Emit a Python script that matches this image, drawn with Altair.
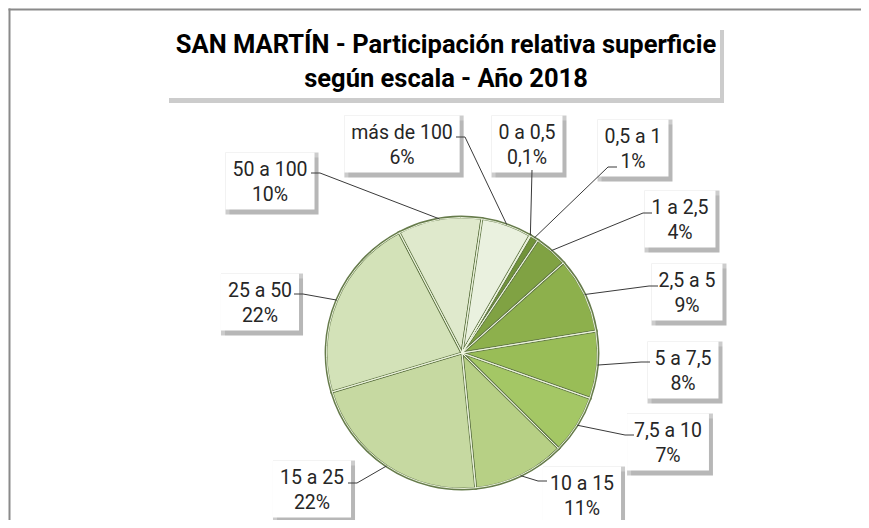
import math
import altair as alt
import pandas as pd

# ---------------- data ----------------
categories = ["0 a 0,5", "0,5 a 1", "1 a 2,5", "2,5 a 5", "5 a 7,5", "7,5 a 10",
              "10 a 15", "15 a 25", "25 a 50", "50 a 100", "más de 100"]
shares = [0.1, 1, 4, 9, 8, 7, 11, 22, 22, 10, 6]
share_labels = ["0,1%", "1%", "4%", "9%", "8%", "7%", "11%", "22%", "22%", "10%", "6%"]
title_lines = ["SAN MARTÍN - Participación relativa superficie", "según escala - Año 2018"]

# ---------------- styles / layout ----------------
colors = ["#5e7e2d", "#71933a", "#80a243", "#8db04c", "#99bd57", "#a4c765",
          "#b7d085", "#c6d9a1", "#d3e2b8", "#dfe9cc", "#eaf1df"]
W, H = 853, 512          # chart size (px)
CX, CY = 454, 345        # pie centre inside the chart (px)
R = 136                  # pie radius (px)
START = math.radians(30)  # angle of first slice
FONT = "Roboto"
LFS = 19.5               # label font size
LH = 25                  # label line height

# manual label placement (like dragged Excel labels), offsets from pie centre in px
label_pos = [(65, -208), (171, -204), (218, -133), (225, -60), (221, 18), (206, 90),
             (120, 143), (-150, 137), (-202, -50), (-192, -171), (-60, -208)]
leader_attach = [(70, -183), (146, -186), (181, -140), (187, -67), (179, 9), (163, 82),
                 (76, 128), (-105, 130), (-159, -59), (-142, -180), (3, -216)]
TICK = 9

# approximate glyph advance widths (em) for box sizing
CW = {"0": .5615, "1": .5615, "2": .5615, "3": .5615, "4": .5615, "5": .5615,
      "6": .5615, "7": .5615, "8": .5615, "9": .5615, " ": .248, "a": .544,
      ",": .196, "%": .732, "m": .875, "á": .544, "s": .5166, "d": .547, "e": .53}


def text_w(s):
    return sum(CW.get(c, .55) for c in s) * LFS


xs = alt.Scale(domain=[-CX, W - CX], nice=False, zero=False)
ys = alt.Scale(domain=[-CY, H - CY], nice=False, zero=False, reverse=True)


def X(f):
    return alt.X(f, type="quantitative", scale=xs, axis=None)


def Y(f):
    return alt.Y(f, type="quantitative", scale=ys, axis=None)


# ---------------- pie ----------------
pie_df = pd.DataFrame({"cat": categories, "share": shares,
                       "idx": list(range(len(shares))), "cx": 0, "cy": 0})
theta = alt.Theta("share:Q", stack=True,
                  scale=alt.Scale(range=[START, START + 2 * math.pi]))
color = alt.Color("cat:N", scale=alt.Scale(domain=categories, range=colors), legend=None)

arcs = alt.Chart(pie_df).mark_arc(outerRadius=R, stroke="#667b4b", strokeWidth=2.8).encode(
    theta=theta, color=color, order=alt.Order("idx:Q"), x=X("cx"), y=Y("cy"))
arcs_hi = alt.Chart(pie_df).mark_arc(outerRadius=R - 0.5, fillOpacity=0, stroke="#eef5df",
                                     strokeWidth=1.0, strokeOpacity=0.95).encode(
    theta=theta, order=alt.Order("idx:Q"), x=X("cx"), y=Y("cy"))

# ---------------- labels ----------------
total = sum(shares)
rows, lrows = [], []
cum = 0.0
for i, (c, v, p) in enumerate(zip(categories, shares, share_labels)):
    mid = START + 2 * math.pi * (cum + v / 2) / total
    cum += v
    ex, ey = R * math.sin(mid), -R * math.cos(mid)
    tx, ty = label_pos[i]
    ax, ay = leader_attach[i]
    bw = max(text_w(c), text_w(p)) + 14
    bh = 57
    rows.append(dict(cat=c, text=c + "\n" + p, tx=tx, ty=ty - LH / 2,
                     bx=tx - bw / 2, bx2=tx + bw / 2, by=ty - 1 - bh / 2, by2=ty - 1 + bh / 2,
                     sx=tx - bw / 2 + 4, sx2=tx + bw / 2 + 4, sy=ty - 1 - bh / 2 + 5,
                     sy2=ty - 1 + bh / 2 + 5))
    tick = 0 if abs(tx - ax) < 10 else (TICK if tx > ax else -TICK)
    lrows += [dict(cat=c, step=0, px=ex, py=ey), dict(cat=c, step=1, px=ax, py=ay),
              dict(cat=c, step=2, px=ax + tick, py=ay)]
lab_df = pd.DataFrame(rows)
lead_df = pd.DataFrame(lrows)

shadow1 = alt.Chart(lab_df).mark_rect(color="#000000", opacity=0.10).encode(
    x=X("sx"), x2="sx2:Q", y=Y("sy"), y2="sy2:Q")
shadow2 = alt.Chart(lab_df).mark_rect(color="#000000", opacity=0.20).encode(
    x=X("bx"), x2="sx2:Q", y=Y("by"), y2="sy2:Q")
boxes = alt.Chart(lab_df).mark_rect(color="#ffffff").encode(
    x=X("bx"), x2="bx2:Q", y=Y("by"), y2="by2:Q")
texts = alt.Chart(lab_df).mark_text(font=FONT, fontSize=LFS, lineBreak="\n", lineHeight=LH,
                                    align="center", baseline="middle", color="#262626").encode(
    x=X("tx"), y=Y("ty"), text="text:N")
leaders = alt.Chart(lead_df).mark_line(color="#3a3a3a", strokeWidth=1).encode(
    x=X("px"), y=Y("py"), detail="cat:N", order="step:Q")

# ---------------- title ----------------
tb = dict(x=-294, x2=258, y=-326, y2=-255)
tbox_df = pd.DataFrame([dict(x=tb["x"], x2=tb["x2"], y=tb["y"], y2=tb["y2"],
                             sx=tb["x"] + 1, sx2=tb["x2"] + 4, sy=tb["y"] + 3, sy2=tb["y2"] + 5)])
t_shadow = alt.Chart(tbox_df).mark_rect(color="#000000", opacity=0.2).encode(
    x=X("sx"), x2="sx2:Q", y=Y("sy"), y2="sy2:Q")
t_box = alt.Chart(tbox_df).mark_rect(color="#ffffff").encode(
    x=X("x"), x2="x2:Q", y=Y("y"), y2="y2:Q")
title_df = pd.DataFrame({"line": title_lines, "tx": [-16, -16], "ty": [-300, -266]})
t_text = alt.Chart(title_df).mark_text(font=FONT, fontSize=25.5, fontWeight="bold",
                                       align="center", baseline="alphabetic",
                                       color="#000000").encode(
    x=X("tx"), y=Y("ty"), text="line:N")

# ---------------- outer chart-area border: left and top bands (filled, no stroke) ----------------
frame_df = pd.DataFrame([
    dict(fx=-CX + 0.5, fx2=-CX + 2.5, fy=-CY + 0.5, fy2=H - CY + 30),
    dict(fx=-CX + 0.5, fx2=W - CX + 30, fy=-CY + 0.5, fy2=-CY + 2.5),
])
frame = alt.Chart(frame_df).mark_rect(color="#8a8a8a").encode(
    x=X("fx"), x2="fx2:Q", y=Y("fy"), y2="fy2:Q")

chart = alt.layer(
    frame, t_shadow, t_box, t_text,
    shadow1, shadow2, boxes, arcs, arcs_hi, leaders, texts
).properties(
    width=W, height=H, padding=0,
    autosize=alt.AutoSizeParams(type="none"),
    background="#ffffff"
).configure_view(stroke=None)

chart.save("out.html", embed_options={"renderer": "svg", "actions": False})
